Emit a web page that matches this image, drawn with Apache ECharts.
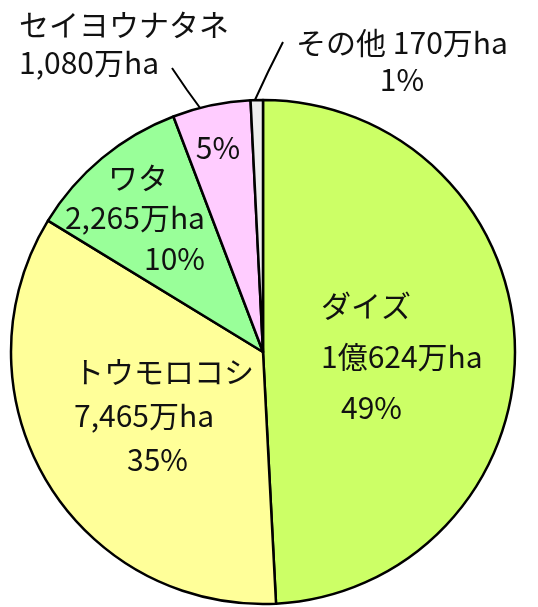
<!DOCTYPE html>
<html>
<head>
    <meta charset="utf-8">
    <title>遺伝子組換え作物の作付面積</title>
    <script src="https://cdn.jsdelivr.net/npm/echarts@6/dist/echarts.min.js"></script>
    <style>
        html, body {
            margin: 0;
            width: 100%;
            height: 100%;
            background: #ffffff;
        }

        #main {
            width: 538px;
            height: 607px;
        }
    </style>
</head>
<body>
<div id="main"></div>
<script type="text/javascript">
    var myChart = echarts.init(document.getElementById('main'));

    // 作物ごとの作付面積（万ha）
    const names = ['ダイズ', 'トウモロコシ', 'ワタ', 'セイヨウナタネ', 'その他'];
    const values = [10624, 7465, 2265, 1080, 170];
    const areaLabels = ['1億624万ha', '7,465万ha', '2,265万ha', '1,080万ha', '170万ha'];
    const colors = ['#ccff66', '#ffff99', '#99ff99', '#ffccff', '#eeeeee'];

    const font = '"Noto Sans CJK JP", "Noto Sans", sans-serif';
    const fs = 30;

    // ラベルの置き場所
    const inLayout = [
        {x: 321, y: 280, align: 'left'},
        {x: 74, y: 350, align: 'left'},
        {x: 205, y: 157, align: 'right'},
        {x: 218, y: 148, align: 'center', verticalAlign: 'middle'},
        null
    ];
    const outLayout = [
        null, null, null,
        {x: 19, y: 6, align: 'left', labelLinePoints: [[172, 68], [187, 90], [203, 112]]},
        {x: 402, y: 24, align: 'center', labelLinePoints: [[283, 42], [268, 72], [254, 102]]}
    ];

    const richBase = {
        n: {fontSize: fs, fontFamily: font, color: '#111'},
        v: {fontSize: fs, fontFamily: font, color: '#111'},
        p: {fontSize: fs, fontFamily: font, color: '#111'}
    };

    function rich(lh, opts) {
        let r = {};
        Object.keys(richBase).forEach(k => {
            r[k] = Object.assign({}, richBase[k], {lineHeight: lh}, opts[k] || {});
        });
        return r;
    }

    const innerData = names.map((name, i) => {
        let item = {
            name: name,
            value: values[i],
            itemStyle: {color: colors[i]}
        };
        if (i === 0) {
            item.label = {
                show: true,
                formatter: '{n|{b}}\n{v|' + areaLabels[i] + '}\n{p|{d}%}',
                rich: rich(51, {p: {padding: [0, 0, 0, 20]}})
            };
        } else if (i === 1) {
            item.label = {
                show: true,
                formatter: '{n|{b}}\n{v|' + areaLabels[i] + '}\n{p|{d}%}',
                rich: rich(44, {p: {padding: [0, 0, 0, 53]}})
            };
        } else if (i === 2) {
            item.label = {
                show: true,
                formatter: '{n|{b}}\n{v|' + areaLabels[i] + '}\n{p|{d}%}',
                rich: rich(40.5, {
                    n: {align: 'right', padding: [0, 37, 0, 0]},
                    v: {align: 'right'},
                    p: {align: 'right'}
                })
            };
        } else if (i === 3) {
            item.label = {
                show: true,
                formatter: '{p|{d}%}',
                rich: rich(34, {})
            };
        } else {
            item.label = {show: false};
        }
        return item;
    });

    const outerData = names.map((name, i) => {
        let item = {name: name, value: values[i]};
        if (i === 3) {
            item.label = {
                show: true,
                formatter: '{n|{b}}\n{v|' + areaLabels[i] + '}',
                rich: rich(38, {})
            };
            item.labelLine = {show: true};
        } else if (i === 4) {
            item.label = {
                show: true,
                formatter: '{n|{b}}{v| ' + areaLabels[i] + '}\n{p|{d}%}',
                rich: rich(37, {n: {align: 'center'}, v: {align: 'center'}, p: {align: 'center'}})
            };
            item.labelLine = {show: true};
        } else {
            item.label = {show: false};
            item.labelLine = {show: false};
        }
        return item;
    });

    var option = {
        animation: false,
        series: [
            {
                type: 'pie',
                center: [263, 352],
                radius: 252,
                startAngle: 90,
                clockwise: true,
                percentPrecision: 0,
                avoidLabelOverlap: false,
                itemStyle: {
                    borderColor: '#000',
                    borderWidth: 2.5
                },
                label: {
                    position: 'inside'
                },
                labelLine: {show: false},
                labelLayout: function (params) {
                    let l = inLayout[params.dataIndex];
                    if (!l) return {};
                    return Object.assign({verticalAlign: 'top'}, l);
                },
                emphasis: {disabled: true},
                data: innerData
            },
            {
                type: 'pie',
                center: [263, 352],
                radius: 252,
                startAngle: 90,
                clockwise: true,
                percentPrecision: 0,
                avoidLabelOverlap: false,
                silent: true,
                itemStyle: {
                    color: 'rgba(0,0,0,0)',
                    borderWidth: 0
                },
                label: {
                    position: 'outside'
                },
                labelLine: {
                    lineStyle: {color: '#000', width: 2}
                },
                labelLayout: function (params) {
                    let l = outLayout[params.dataIndex];
                    if (!l) return {};
                    return Object.assign({verticalAlign: 'top'}, l);
                },
                emphasis: {disabled: true},
                data: outerData
            }
        ]
    };

    myChart.setOption(option);
</script>
</body>
</html>
